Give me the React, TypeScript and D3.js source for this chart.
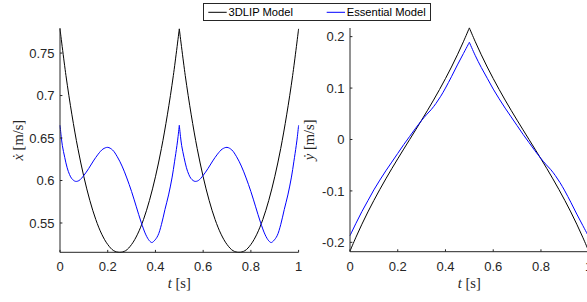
import React from "react";
import * as d3 from "d3";

const W = 587;
const H = 302;

// sample times (s)
const tBlack = [0, 0.025, 0.05, 0.075, 0.1, 0.125, 0.15, 0.175, 0.2, 0.225, 0.25, 0.275, 0.3, 0.325, 0.35, 0.375, 0.4, 0.425, 0.45, 0.475, 0.5,
  0.525, 0.55, 0.575, 0.6, 0.625, 0.65, 0.675, 0.7, 0.725, 0.75, 0.775, 0.8, 0.825, 0.85, 0.875, 0.9, 0.925, 0.95, 0.975, 1];

// 3DLIP model, x velocity
const xdot3DLIP = [0.7785, 0.7235, 0.6773, 0.6376, 0.6044, 0.5766, 0.5541, 0.5368, 0.5247, 0.5174, 0.5155, 0.5174, 0.5247, 0.5368, 0.5541, 0.5766, 0.6044, 0.6376, 0.6773, 0.7235, 0.7785,
  0.7235, 0.6773, 0.6376, 0.6044, 0.5766, 0.5541, 0.5368, 0.5247, 0.5174, 0.5155, 0.5174, 0.5247, 0.5368, 0.5541, 0.5766, 0.6044, 0.6376, 0.6773, 0.7235, 0.7785];

// 3DLIP model, y velocity
const ydot3DLIP = [-0.217, -0.19, -0.1647, -0.1409, -0.1185, -0.0971, -0.0766, -0.0568, -0.0376, -0.0187, 0, 0.0187, 0.0376, 0.0568, 0.0766, 0.0971, 0.1185, 0.1409, 0.1647, 0.19, 0.217,
  0.19, 0.1647, 0.1409, 0.1185, 0.0971, 0.0766, 0.0568, 0.0376, 0.0187, 0, -0.0187, -0.0376, -0.0568, -0.0766, -0.0971, -0.1185, -0.1409, -0.1647, -0.19, -0.217];

// Essential model, x velocity
const tEssX = [0, 0.005, 0.01, 0.02, 0.03, 0.04, 0.05, 0.065, 0.08, 0.1, 0.12, 0.14, 0.16, 0.18, 0.2, 0.22, 0.24, 0.26, 0.28, 0.3, 0.32, 0.34, 0.36, 0.375, 0.385, 0.395, 0.41, 0.425, 0.44, 0.455, 0.47, 0.48, 0.49, 0.495, 0.5,
  0.505, 0.51, 0.52, 0.53, 0.54, 0.55, 0.565, 0.58, 0.6, 0.62, 0.64, 0.66, 0.68, 0.7, 0.72, 0.74, 0.76, 0.78, 0.8, 0.82, 0.84, 0.86, 0.875, 0.885, 0.895, 0.91, 0.925, 0.94, 0.955, 0.97, 0.98, 0.99, 0.995, 1];
const xdotEss = [0.665, 0.652, 0.641, 0.627, 0.615, 0.607, 0.602, 0.599, 0.6, 0.606, 0.614, 0.623, 0.631, 0.637, 0.639, 0.636, 0.628, 0.617, 0.603, 0.587, 0.569, 0.551, 0.536, 0.529, 0.527, 0.529, 0.535, 0.548, 0.566, 0.583, 0.604, 0.622, 0.641, 0.652, 0.665,
  0.652, 0.641, 0.627, 0.615, 0.607, 0.602, 0.599, 0.6, 0.606, 0.614, 0.623, 0.631, 0.637, 0.639, 0.636, 0.628, 0.617, 0.603, 0.587, 0.569, 0.551, 0.536, 0.529, 0.527, 0.529, 0.535, 0.548, 0.566, 0.583, 0.604, 0.622, 0.641, 0.652, 0.665];

// Essential model, y velocity
const tEssY = [0, 0.025, 0.05, 0.075, 0.1, 0.125, 0.15, 0.175, 0.2, 0.225, 0.25, 0.275, 0.3, 0.32, 0.34, 0.36, 0.38, 0.4, 0.425, 0.45, 0.475, 0.5,
  0.525, 0.55, 0.575, 0.6, 0.625, 0.65, 0.675, 0.7, 0.725, 0.75, 0.775, 0.8, 0.82, 0.84, 0.86, 0.88, 0.9, 0.925, 0.95, 0.975, 1];
const ydotEss = [-0.187, -0.163, -0.14, -0.119, -0.098, -0.079, -0.061, -0.044, -0.027, -0.01, 0.006, 0.022, 0.037, 0.048, 0.058, 0.07, 0.084, 0.1, 0.122, 0.145, 0.167, 0.189,
  0.163, 0.14, 0.119, 0.098, 0.079, 0.061, 0.044, 0.027, 0.01, -0.006, -0.022, -0.037, -0.048, -0.058, -0.07, -0.084, -0.1, -0.122, -0.145, -0.167, -0.189];

const xTicks = [0, 0.2, 0.4, 0.6, 0.8, 1];
const xTickLabels = ["0", "0.2", "0.4", "0.6", "0.8", "1"];
const leftYTicks = [0.55, 0.6, 0.65, 0.7, 0.75];
const leftYTickLabels = ["0.55", "0.6", "0.65", "0.7", "0.75"];
const rightYTicks = [-0.2, -0.1, 0, 0.1, 0.2];
const rightYTickLabels = ["-0.2", "-0.1", "0", "0.1", "0.2"];

const seriesNames = ["3DLIP Model", "Essential Model"];
const seriesColors = ["#000000", "#0000ff"];

const AX = "#262626";
const SANS = "'Liberation Sans', Arial, Helvetica, sans-serif";
const SERIF = "'Liberation Serif', 'DejaVu Serif', 'Times New Roman', serif";

function pairs(t: number[], v: number[]): [number, number][] {
  return t.map((tt, i) => [tt, v[i]] as [number, number]);
}

function splitAtHalf(p: [number, number][]): [number, number][][] {
  const a = p.filter((d) => d[0] <= 0.5);
  const b = p.filter((d) => d[0] >= 0.5);
  return [a, b];
}

type PanelProps = {
  x0: number;
  x1: number;
  yTop: number;
  yBot: number;
  yDomain: [number, number];
  yTicks: number[];
  yTickLabels: string[];
  series: [number, number][][];
  yLabelVar: string;
  yLabelX: number;
};

function Panel(props: PanelProps) {
  const { x0, x1, yTop, yBot, yDomain, yTicks, yTickLabels, series, yLabelVar, yLabelX } = props;
  const x = d3.scaleLinear().domain([0, 1]).range([x0, x1]);
  const y = d3.scaleLinear().domain(yDomain).range([yBot, yTop]);
  const line = d3
    .line<[number, number]>()
    .x((d) => x(d[0]))
    .y((d) => y(d[1]))
    .curve(d3.curveCatmullRom.alpha(0.5));
  const tl = 2.4;
  const yMid = (yTop + yBot) / 2;
  const xMid = (x0 + x1) / 2;
  return (
    <g>
      {series.map((s, i) => (
        <path
          key={i}
          d={splitAtHalf(s).map((seg) => line(seg) || "").join("")}
          fill="none"
          stroke={seriesColors[i]}
          strokeWidth={1}
        />
      ))}
      {/* axes */}
      <line x1={x0} x2={x1} y1={yBot} y2={yBot} stroke={AX} strokeWidth={1} />
      <line x1={x0} x2={x0} y1={yTop} y2={yBot} stroke={AX} strokeWidth={1} />
      {xTicks.map((t, i) => (
        <g key={"xt" + i}>
          <line x1={x(t)} x2={x(t)} y1={yBot} y2={yBot - tl} stroke={AX} strokeWidth={1} />
          <text x={x(t)} y={yBot + 19} textAnchor="middle" fontFamily={SANS} fontSize={13} fill={AX}>
            {xTickLabels[i]}
          </text>
        </g>
      ))}
      {yTicks.map((t, i) => (
        <g key={"yt" + i}>
          <line x1={x0} x2={x0 + tl} y1={y(t)} y2={y(t)} stroke={AX} strokeWidth={1} />
          <text x={x0 - 5.5} y={y(t) + 4.6} textAnchor="end" fontFamily={SANS} fontSize={13} fill={AX}>
            {yTickLabels[i]}
          </text>
        </g>
      ))}
      <text x={xMid} y={yBot + 36} textAnchor="middle" fontFamily={SERIF} fontSize={14.5} fill={AX}>
        <tspan fontStyle="italic">t</tspan>
        <tspan> [s]</tspan>
      </text>
      <text
        transform={`translate(${yLabelX},${yMid}) rotate(-90)`}
        textAnchor="middle"
        fontFamily={SERIF}
        fontSize={14.5}
        fill={AX}
      >
        <tspan fontStyle="italic">{yLabelVar}</tspan>
        <tspan> [m/s]</tspan>
      </text>
    </g>
  );
}

export default function App() {
  const leftSeries = [pairs(tBlack, xdot3DLIP), pairs(tEssX, xdotEss)];
  const rightSeries = [pairs(tBlack, ydot3DLIP), pairs(tEssY, ydotEss)];
  return (
    <svg
      width={W}
      height={H}
      viewBox={`0 0 ${W} ${H}`}
      style={{ position: "absolute", left: 0, top: 0, background: "#fff" }}
    >
      <rect x={0} y={0} width={W} height={H} fill="#fff" />
      <Panel
        x0={60}
        x1={298.6}
        yTop={28}
        yBot={252.3}
        yDomain={[0.5155, 0.7795]}
        yTicks={leftYTicks}
        yTickLabels={leftYTickLabels}
        series={leftSeries}
        yLabelVar={"\u1E8B"}
        yLabelX={23}
      />
      <Panel
        x0={350}
        x1={588.7}
        yTop={28}
        yBot={251.7}
        yDomain={[-0.2182, 0.2168]}
        yTicks={rightYTicks}
        yTickLabels={rightYTickLabels}
        series={rightSeries}
        yLabelVar={"\u1E8F"}
        yLabelX={314}
      />
      {/* legend */}
      <g>
        <rect x={203.5} y={3.5} width={227} height={17} fill="#fff" stroke={AX} strokeWidth={1} />
        <line x1={208.3} x2={226.7} y1={12.3} y2={12.3} stroke={seriesColors[0]} strokeWidth={1} />
        <text x={228.5} y={16.2} fontFamily={SANS} fontSize={11.2} fill="#000">
          {seriesNames[0]}
        </text>
        <line x1={326.7} x2={345} y1={12.3} y2={12.3} stroke={seriesColors[1]} strokeWidth={1} />
        <text x={346.7} y={16.2} fontFamily={SANS} fontSize={11.2} fill="#000">
          {seriesNames[1]}
        </text>
      </g>
    </svg>
  );
}
